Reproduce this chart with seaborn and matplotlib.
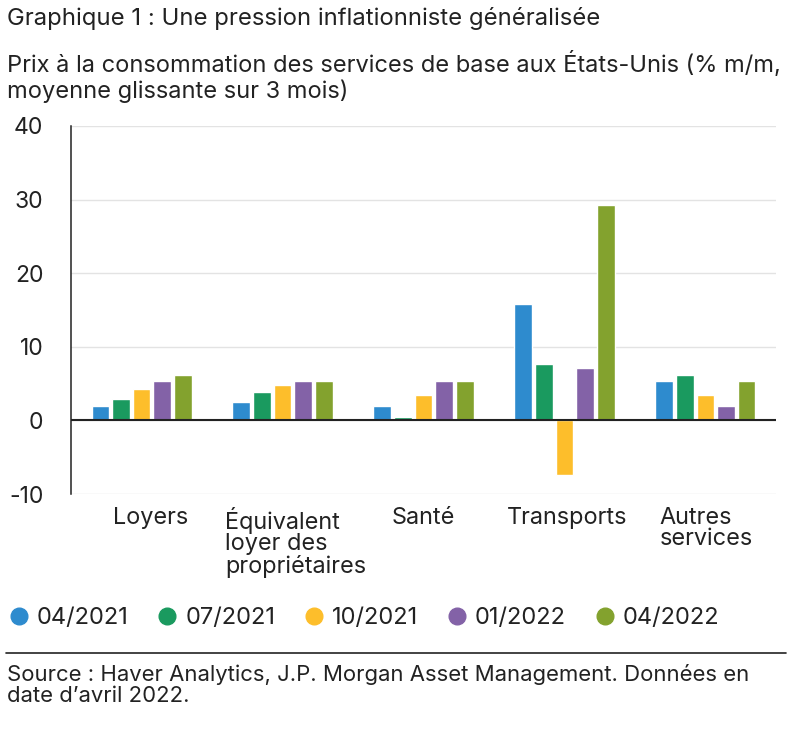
import pandas as pd
import numpy as np
import matplotlib.pyplot as plt
import seaborn as sns
from matplotlib.lines import Line2D
from matplotlib.transforms import ScaledTranslation

categories = ["Loyers", "Équivalent\nloyer des\npropriétaires", "Santé", "Transports", "Autres\nservices"]
periods = ["04/2021", "07/2021", "10/2021", "01/2022", "04/2022"]
v_04_2021 = [2.0, 2.5, 2.0, 15.8, 5.3]
v_07_2021 = [2.9, 3.8, 0.5, 7.6, 6.2]
v_10_2021 = [4.3, 4.8, 3.4, -7.4, 3.4]
v_01_2022 = [5.3, 5.3, 5.3, 7.1, 2.0]
v_04_2022 = [6.2, 5.3, 5.3, 29.3, 5.3]
colors = ["#2E8BCE", "#1A9A5F", "#FDBE2B", "#8362A7", "#83A22E"]

series = [v_04_2021, v_07_2021, v_10_2021, v_01_2022, v_04_2022]
rows = []
for p, vals in zip(periods, series):
    for c, v in zip(categories, vals):
        rows.append({"categorie": c, "periode": p, "valeur": v})
df = pd.DataFrame(rows)

sns.set_style("white")
plt.rcParams["font.family"] = ["Inter", "DejaVu Sans"]
plt.rcParams["axes.unicode_minus"] = False
txt = "#222222"

fig = plt.figure(figsize=(7.91, 7.32), dpi=100)
ax = fig.add_axes([0.0898, 0.325, 0.8912, 0.503])

sns.barplot(data=df, x="categorie", y="valeur", hue="periode", order=categories,
            hue_order=periods, palette=colors, width=0.73, gap=0.14,
            saturation=1, legend=False, ax=ax)

ax.set_ylim(-10, 40)
ax.set_yticks([-10, 0, 10, 20, 30, 40])
ax.set_xlim(-0.5, 4.5)
ax.yaxis.grid(True, color="#e3e3e3", linewidth=1)
ax.set_axisbelow(True)
ax.axhline(0, color="#222222", linewidth=1.5, zorder=3)
for s in ["top", "right", "bottom"]:
    ax.spines[s].set_visible(False)
ax.spines["left"].set_color("#222222")
ax.spines["left"].set_linewidth(1.1)
ax.tick_params(axis="y", length=0, pad=20, labelsize=16.5, labelcolor=txt)
ax.tick_params(axis="x", length=0, pad=9, labelsize=16.9, labelcolor=txt)

# petits décalages des libellés comme dans l'original (en pixels)
shifts = [9, 13, 0, 3, 1]
for lab, dx in zip(ax.get_xticklabels(), shifts):
    lab.set_linespacing(0.98)
    lab.set_multialignment("left")
    lab.set_transform(lab.get_transform() + ScaledTranslation(dx / 100, 0, fig.dpi_scale_trans))
ax.set_xlabel("")
ax.set_ylabel("")

handles = [Line2D([0], [0], marker="o", linestyle="", markersize=12,
                  markerfacecolor=c, markeredgecolor=c) for c in colors]
fig.legend(handles, periods, loc="center left", bbox_to_anchor=(0.0, 1 - 618 / 732),
           ncol=5, frameon=False, fontsize=17, handlelength=0.8, handletextpad=0.35,
           columnspacing=1.25, borderaxespad=0, labelcolor=txt)

fig.text(0.009, 1 - 25 / 732, "Graphique 1 : Une pression inflationniste généralisée",
         fontsize=17.2, color=txt, va="baseline", ha="left")
fig.text(0.009, 1 - 98 / 732,
         "Prix à la consommation des services de base aux États-Unis (% m/m,\nmoyenne glissante sur 3 mois)",
         fontsize=17, color=txt, va="baseline", ha="left", linespacing=1.13)

fig.add_artist(Line2D([0.008, 0.994], [1 - 653 / 732, 1 - 653 / 732], color="#222222", linewidth=1.2))
fig.text(0.009, 1 - 702 / 732,
         "Source : Haver Analytics, J.P. Morgan Asset Management. Données en\ndate d’avril 2022.",
         fontsize=15.9, color=txt, va="baseline", ha="left", linespacing=1.08)

fig.savefig("out.png", dpi=100)
